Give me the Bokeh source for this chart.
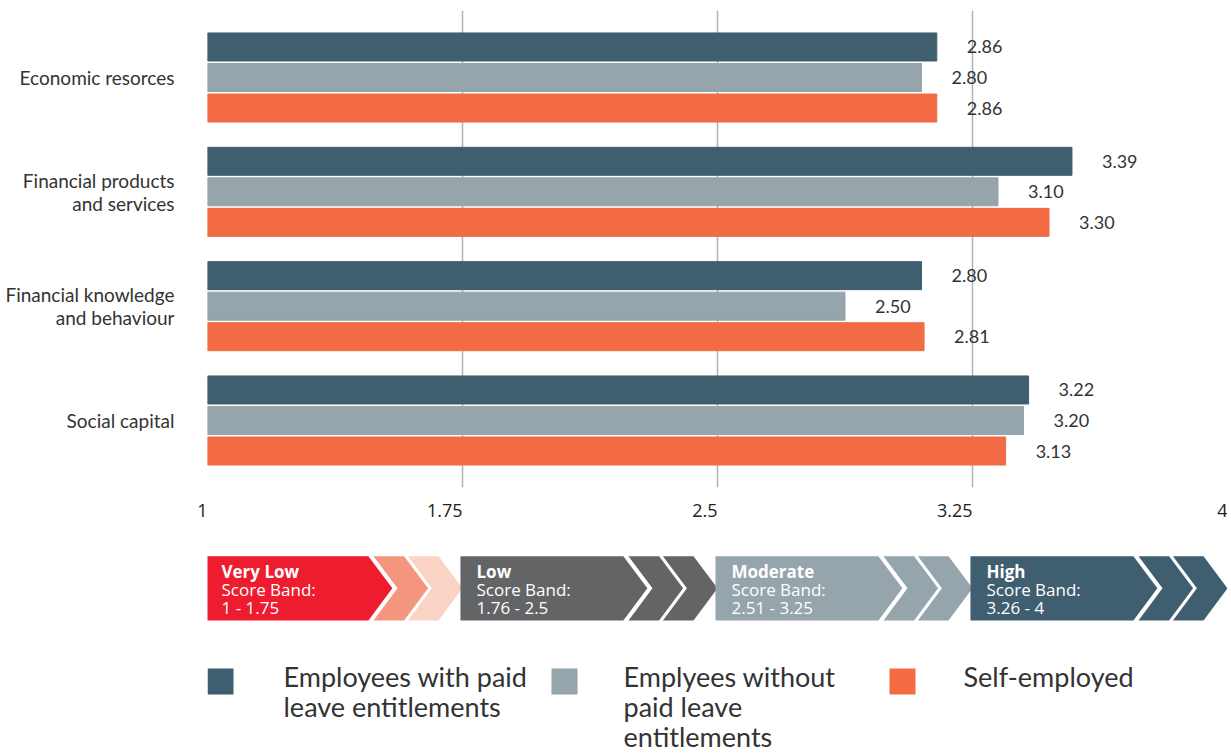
from bokeh.plotting import figure
from bokeh.layouts import column
from bokeh.models import Range1d, FixedTicker, ColumnDataSource
from bokeh.core.properties import value
from bokeh.embed import file_html
from bokeh.resources import INLINE

# ---------------- data ----------------
categories = ["Economic resorces", "Financial products\nand services",
              "Financial knowledge\nand behaviour", "Social capital"]
series_names = ["Employees with paid\nleave entitlements",
                "Emplyees without\npaid leave\nentitlements",
                "Self-employed"]
with_paid = [2.86, 3.39, 2.80, 3.22]
without_paid = [2.80, 3.10, 2.50, 3.20]
self_employed = [2.86, 3.30, 2.81, 3.13]
tick_labels = ["1", "1.75", "2.5", "3.25", "4"]
band_names = ["Very Low", "Low", "Moderate", "High"]
band_ranges = ["1 - 1.75", "1.76 - 2.5", "2.51 - 3.25", "3.26 - 4"]

# ---------------- styles ----------------
series_values = [with_paid, without_paid, self_employed]
series_colors = ["#3F5F70", "#96A4AB", "#F26B45"]
band_colors = [["#ED1C2E", "#F4967D", "#FBD3C4"],
               ["#636466", "#636466", "#636466"],
               ["#96A4AB", "#96A4AB", "#96A4AB"],
               ["#3F5E6F", "#3F5E6F", "#3F5E6F"]]
TEXT = "#333333"
W = 1227
LEFT = 207


def right_pad(s):
    # pad with equal-width blank characters so a centred label ends at its tick
    return s + "".join("\u2008" if ch == "." else "\u2007" for ch in s)


x_range = Range1d(0, 4)

# ---------------- bar chart ----------------
p1 = figure(width=W, height=530, x_range=x_range, y_range=Range1d(-0.586, 3.586),
            output_backend="svg", toolbar_location=None,
            min_border_left=LEFT, min_border_right=0,
            min_border_top=10, min_border_bottom=43)
p1.outline_line_color = None
p1.background_fill_color = "white"

n = len(categories)
ypos = [n - 1 - i for i in range(n)]
step = 0.267
for k, (vals, col) in enumerate(zip(series_values, series_colors)):
    ys = [y + (1 - k) * step for y in ypos]
    src = ColumnDataSource(dict(y=ys, right=vals, label=[f"{v:.2f}" for v in vals]))
    p1.hbar(y="y", left=0, right="right", height=0.245, color=col, source=src)
    p1.text(x="right", y="y", text="label", x_offset=30, source=src,
            text_baseline="middle", text_align="left",
            text_font=value("Lato"), text_font_size="18px", text_color=TEXT)

xt = FixedTicker(ticks=list(range(len(tick_labels))))
p1.xaxis.ticker = xt
# the last tick sits on the frame edge, where the axis keeps its label inside anyway
p1.xaxis.major_label_overrides = {
    i: (right_pad(t) if i < len(tick_labels) - 1 else t) for i, t in enumerate(tick_labels)}
p1.xaxis.axis_line_color = None
p1.xaxis.major_tick_line_color = None
p1.xaxis.minor_tick_line_color = None
p1.xaxis.major_tick_out = 0
p1.xaxis.major_label_standoff = 10
p1.xaxis.major_label_text_font = "Open Sans"
p1.xaxis.major_label_text_font_size = "18px"
p1.xaxis.major_label_text_color = "#222222"
p1.xgrid.ticker = xt
p1.xgrid.grid_line_color = "#A9B5BC"
p1.xgrid.grid_line_width = 1.5
p1.ygrid.grid_line_color = None

p1.yaxis.ticker = FixedTicker(ticks=ypos)
p1.yaxis.major_label_overrides = {y: c for y, c in zip(ypos, categories)}
p1.yaxis.axis_line_color = None
p1.yaxis.major_tick_line_color = None
p1.yaxis.minor_tick_line_color = None
p1.yaxis.major_tick_out = 0
p1.yaxis.major_label_standoff = 33
p1.yaxis.major_label_text_font = "Lato"
p1.yaxis.major_label_text_font_size = "19px"
p1.yaxis.major_label_text_line_height = 1.0
p1.yaxis.major_label_text_color = TEXT

# ---------------- score bands ----------------
p2 = figure(width=W, height=110, x_range=x_range, y_range=Range1d(0, 110),
            output_backend="svg", toolbar_location=None,
            x_axis_location=None, y_axis_location=None,
            min_border_left=LEFT, min_border_right=0,
            min_border_top=0, min_border_bottom=0)
p2.outline_line_color = None
p2.grid.grid_line_color = None

top, bot = 84.3, 20.0
mid = (top + bot) / 2
depth = 0.094
xs, ys, cs = [], [], []
for i, cols in enumerate(band_colors):
    xs.append([i - 0.008, i + 0.631, i + 0.631 + depth, i + 0.631, i - 0.008])
    ys.append([top, top, mid, bot, bot])
    cs.append(cols[0])
    for L, c in ((0.651, cols[1]), (0.786, cols[2])):
        w = 0.12
        xs.append([i + L, i + L + w, i + L + w + depth, i + L + w, i + L, i + L + depth])
        ys.append([top, top, mid, bot, bot, mid])
        cs.append(c)
p2.patches(xs=xs, ys=ys, fill_color=cs, line_color=None)

bx = list(range(len(band_names)))
p2.text(x=bx, y=[69] * len(bx), text=band_names, x_offset=14,
        text_font=value("Open Sans"), text_font_size="17px", text_font_style="bold",
        text_color="white", text_baseline="middle")
p2.text(x=bx, y=[51] * len(bx), text=["Score Band:"] * len(bx), x_offset=14,
        text_font=value("Open Sans"), text_font_size="17px",
        text_color="white", text_baseline="middle")
p2.text(x=bx, y=[33] * len(bx), text=band_ranges, x_offset=14,
        text_font=value("Open Sans"), text_font_size="17px",
        text_color="white", text_baseline="middle")

# ---------------- legend ----------------
p3 = figure(width=W, height=114, x_range=Range1d(LEFT, W), y_range=Range1d(114, 0),
            output_backend="svg", toolbar_location=None,
            x_axis_location=None, y_axis_location=None,
            min_border_left=LEFT, min_border_right=0,
            min_border_top=0, min_border_bottom=0)
p3.outline_line_color = None
p3.grid.grid_line_color = None

sq_left = [207, 551, 889]
txt_left = [283, 623, 963]
p3.rect(x=[s + 13 for s in sq_left], y=[41] * 3, width=26, height=26,
        fill_color=series_colors, line_color=None)
for name, tx in zip(series_names, txt_left):
    lines = name.split("\n")
    p3.text(x=[tx] * len(lines), y=[36 + 30 * j for j in range(len(lines))], text=lines,
            text_font=value("Lato"), text_font_size="27px", text_color=TEXT,
            text_baseline="middle")

layout = column(p1, p2, p3, spacing=0)
open("out.html", "w").write(file_html(layout, INLINE))
